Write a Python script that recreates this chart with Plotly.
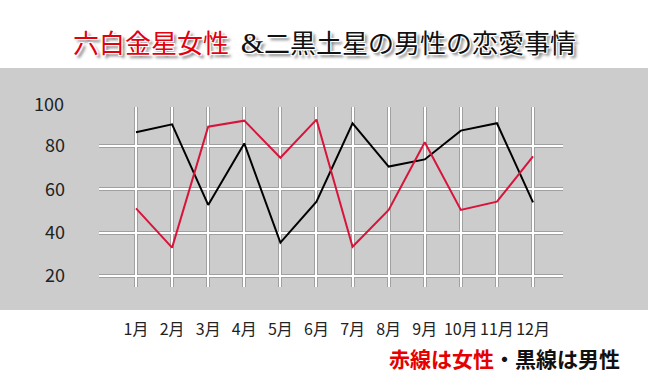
import plotly.graph_objects as go

# ---- data ----
months = ["1月", "2月", "3月", "4月", "5月", "6月", "7月", "8月", "9月", "10月", "11月", "12月"]
female = [51.2, 33.1, 88.9, 91.7, 74.6, 92.2, 33.5, 50.5, 81.7, 50.5, 54.3, 75.2]   # 六白金星女性 (red)
male = [86.3, 90.0, 52.8, 81.2, 35.4, 54.3, 90.5, 70.5, 73.8, 87.1, 90.5, 54.0]     # 二黒土星男性 (black)
y_ticks = [20, 40, 60, 80]
y_top_label = 100

# ---- layout constants ----
W, H = 648, 388
L, R, T, B = 99, 85, 107, 101
PW, PH = W - L - R, H - T - B
Y_RANGE = [14.92, 98.0]
X_RANGE = [-1.025, 11.83]
FONT = "Noto Sans CJK JP"


def px_x(px):
    return (px - L) / PW


def px_y(py):
    return (H - B - py) / PH


fig = go.Figure()
fig.add_trace(go.Scatter(x=months, y=male, mode="lines", xaxis="x", yaxis="y",
                         line=dict(color="#000000", width=2), name="男性"))
fig.add_trace(go.Scatter(x=months, y=female, mode="lines", xaxis="x2", yaxis="y2",
                         line=dict(color="#d7143a", width=2), name="女性"))

# gray band
fig.add_shape(type="rect", xref="paper", yref="paper", layer="below",
              x0=px_x(-5), x1=px_x(W + 5), y0=px_y(310), y1=px_y(68),
              fillcolor="#cccccc", line=dict(width=0))

shadow = ("1px 1px 0 #fff, -1px -1px 0 #fff, 1px -1px 0 #fff, -1px 1px 0 #fff, "
          "3px 3px 3px #777")
title_text = ("<span style='color:#e3000f'>六白金星女性</span>&nbsp;&nbsp;"
              "<span style='font-family:Liberation Serif;font-size:30px'>&amp;</span>"
              "二黒土星の男性の恋愛事情")
fig.add_annotation(text=title_text, xref="paper", yref="paper",
                   x=px_x(W / 2), y=px_y(41), xanchor="center", yanchor="middle",
                   showarrow=False,
                   font=dict(family=FONT, size=26, color="#111111", shadow=shadow))

# "100" label (above the grid area)
fig.add_annotation(text=str(y_top_label), xref="paper", yref="paper",
                   x=0, xshift=-33, xanchor="right",
                   y=(y_top_label - Y_RANGE[0]) / (Y_RANGE[1] - Y_RANGE[0]), yanchor="middle",
                   showarrow=False, font=dict(family=FONT, size=18, color="#222222"))

# legend text
fig.add_annotation(text="<b><span style='color:#e60000'>赤線は女性</span>・黒線は男性</b>",
                   xref="paper", yref="paper", x=px_x(387), y=px_y(358),
                   xanchor="left", yanchor="middle", showarrow=False,
                   font=dict(family=FONT, size=21, color="#111111"))

fig.update_layout(
    width=W, height=H,
    margin=dict(l=L, r=R, t=T, b=B, pad=0),
    paper_bgcolor="#ffffff", plot_bgcolor="#cccccc",
    showlegend=False,
    xaxis=dict(type="category", range=X_RANGE, showgrid=True, gridcolor="#a0a0a0",
               gridwidth=4, zeroline=False, showline=False, ticks="",
               ticklabelstandoff=31,
               tickfont=dict(family=FONT, size=16, color="#222222")),
    yaxis=dict(range=Y_RANGE, tickvals=y_ticks, showgrid=True, gridcolor="#a0a0a0",
               gridwidth=4, zeroline=False, showline=False, ticks="",
               ticklabelstandoff=33,
               tickfont=dict(family=FONT, size=18, color="#222222")),
    xaxis2=dict(type="category", range=X_RANGE, overlaying="x", anchor="y2",
                showgrid=True, gridcolor="#ffffff", gridwidth=2, zeroline=False,
                showline=False, ticks="", showticklabels=False),
    yaxis2=dict(range=Y_RANGE, tickvals=y_ticks, overlaying="y", anchor="x2",
                showgrid=True, gridcolor="#ffffff", gridwidth=2, zeroline=False,
                showline=False, ticks="", showticklabels=False),
)

fig.write_html("out.html", config={"displayModeBar": False},
               post_script="document.body.style.margin='0px';document.body.style.overflow='hidden';")
